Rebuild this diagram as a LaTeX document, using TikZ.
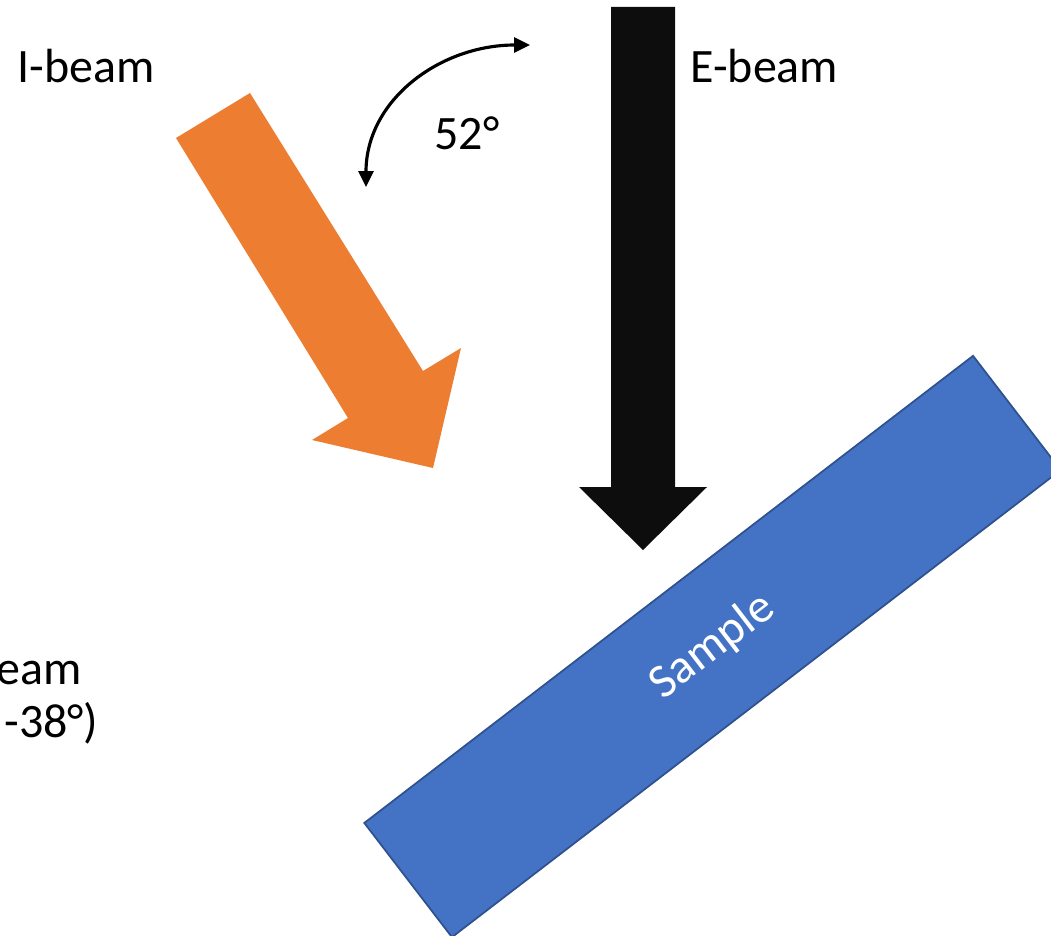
\documentclass[tikz,border=0pt]{standalone}
\usepackage{fontspec}
\setmainfont{Carlito}
\usetikzlibrary{arrows.meta}
\definecolor{ionOrange}{HTML}{ED7D31}
\definecolor{elecBlack}{HTML}{0D0D0D}
\definecolor{sampleBlue}{HTML}{4472C4}
\definecolor{sampleEdge}{HTML}{2F528F}

\begin{document}
\begin{tikzpicture}[
    x=0.02cm, y=-0.02cm,
    >={Triangle[length=0.32cm,width=0.3cm]},
    txt/.style={font=\fontsize{27.3}{33}\selectfont, inner sep=0pt, anchor=base west}
]
\clip (0,0) rectangle (1051,936);

% sample, tilted
\node[draw=sampleEdge, fill=sampleBlue, line width=1pt, rotate=37.5,
      minimum width=15.35cm, minimum height=2.88cm, text=white,
      font=\fontsize{27.3}{33}\selectfont] (sample) at (712.5,646.5) {Sample};

% ion beam
\fill[ionOrange] (250,93) -- (423,371) -- (461,348) -- (433,468)
    -- (312,440) -- (348,418) -- (176,138) -- cycle;

% electron beam
\fill[elecBlack] (611,7) -- (675,7) -- (675,487) -- (707,487)
    -- (643,550) -- (579,487) -- (611,487) -- cycle;

% angle between beams
\coordinate (angA) at (366,187);
\coordinate (angB) at (530,45);
\draw[<->, line width=1.8pt] (angA) .. controls (366,100) and (440,45) .. (angB);

\node[txt] (ibeam) at (17,83) {I-beam};
\node[txt] (ebeam) at (690,83) {E-beam};
\node[txt, anchor=base] (angle) at (467,150) {52°};
\node[txt] (tiltA) at (-4,684) {eam};
\node[txt] (tiltB) at (4,737) {-38°)};
\end{tikzpicture}
\end{document}
